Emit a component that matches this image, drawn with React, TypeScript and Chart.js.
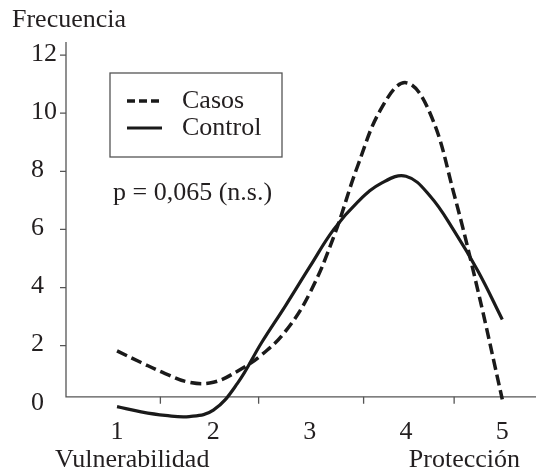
import React, { useEffect, useRef } from 'react';
import { Chart, registerables } from 'chart.js';

Chart.register(...registerables);

// ---- data ----
const xValues = [1, 1.25, 1.5, 1.75, 2, 2.25, 2.5, 2.75, 3, 3.25, 3.5, 3.75, 4, 4.25, 4.5, 4.75, 5];
const casos = [1.82, 1.42, 1.04, 0.74, 0.74, 1.12, 1.68, 2.5, 3.8, 5.75, 8.2, 10.2, 11.05, 10.0, 7.2, 3.85, 0.15];
const control = [-0.1, -0.28, -0.4, -0.44, -0.22, 0.7, 2.1, 3.38, 4.71, 6.0, 6.95, 7.6, 7.83, 7.15, 5.95, 4.55, 2.9];
const seriesLabels = ['Casos', 'Control'];
const yTicks = [0, 2, 4, 6, 8, 10, 12];
const xTickLabels = [1, 2, 3, 4, 5];
const xTickMarks = [1.45, 2.47, 3.56, 4.5];
const yAxisTitle = 'Frecuencia';
const xLeftTitle = 'Vulnerabilidad';
const xRightTitle = 'Protección';
const pText = 'p = 0,065 (n.s.)';

const X_MIN = 0.47;
const X_MAX = 5.35;
const Y_MIN = -0.8;
const Y_MAX = 12.45;
const X_AXIS_AT = 0.24;

const FONT = '26px "Liberation Serif", "Times New Roman", serif';
const TEXT = '#231f20';
const AXIS = '#555';

const decorPlugin = {
  id: 'decor',
  beforeDatasetsDraw(chart: any) {
    const { ctx, chartArea, scales } = chart;
    const xs = scales.x;
    const ys = scales.y;
    const axisY = ys.getPixelForValue(X_AXIS_AT);
    ctx.save();
    ctx.strokeStyle = AXIS;
    ctx.lineWidth = 1.3;
    ctx.beginPath();
    ctx.moveTo(chartArea.left, chartArea.top);
    ctx.lineTo(chartArea.left, axisY);
    ctx.lineTo(chartArea.right, axisY);
    ctx.stroke();
    // y tick marks
    ctx.beginPath();
    yTicks.forEach((v) => {
      if (v >= X_AXIS_AT) {
        const py = ys.getPixelForValue(v);
        ctx.moveTo(chartArea.left - 6, py);
        ctx.lineTo(chartArea.left, py);
      }
    });
    // x tick marks
    xTickMarks.forEach((v) => {
      const px = xs.getPixelForValue(v);
      ctx.moveTo(px, axisY);
      ctx.lineTo(px, axisY + 7);
    });
    ctx.stroke();

    ctx.fillStyle = TEXT;
    ctx.font = FONT;
    ctx.textBaseline = 'middle';
    ctx.textAlign = 'left';
    yTicks.forEach((v) => {
      ctx.fillText(String(v), 31, ys.getPixelForValue(v) - 1);
    });
    ctx.textAlign = 'center';
    xTickLabels.forEach((v) => {
      ctx.fillText(String(v), xs.getPixelForValue(v), axisY + 35);
    });
    ctx.textBaseline = 'alphabetic';
    ctx.textAlign = 'left';
    ctx.fillText(yAxisTitle, 12, 27);
    ctx.fillText(xLeftTitle, 55, 467);
    ctx.textAlign = 'right';
    ctx.fillText(xRightTitle, 520, 467);
    ctx.restore();
  },
  afterDraw(chart: any) {
    const { ctx } = chart;
    ctx.save();
    // legend box
    ctx.strokeStyle = AXIS;
    ctx.lineWidth = 1.3;
    ctx.strokeRect(110, 73, 172, 84);
    const rows = [101, 128];
    chart.data.datasets.forEach((ds: any, i: number) => {
      ctx.beginPath();
      ctx.strokeStyle = ds.borderColor;
      ctx.lineWidth = ds.borderWidth;
      ctx.setLineDash(i === 0 ? [8, 4] : []);
      ctx.moveTo(127, rows[i]);
      ctx.lineTo(162, rows[i]);
      ctx.stroke();
      ctx.setLineDash([]);
      ctx.fillStyle = TEXT;
      ctx.font = FONT;
      ctx.textBaseline = 'middle';
      ctx.textAlign = 'left';
      ctx.fillText(ds.label, 182, rows[i]);
    });
    ctx.textBaseline = 'alphabetic';
    ctx.fillText(pText, 113, 200);
    ctx.restore();
  },
};

export default function App() {
  const ref = useRef<HTMLCanvasElement>(null);
  useEffect(() => {
    if (!ref.current) return;
    const chart = new Chart(ref.current, {
      type: 'line',
      data: {
        datasets: [
          {
            label: seriesLabels[0],
            data: xValues.map((x, i) => ({ x, y: casos[i] })),
            borderColor: '#1a1a1a',
            borderWidth: 3.5,
            borderDash: [11, 5],
            pointRadius: 0,
            tension: 0.4,
            fill: false,
            clip: false,
          },
          {
            label: seriesLabels[1],
            data: xValues.map((x, i) => ({ x, y: control[i] })),
            borderColor: '#1a1a1a',
            borderWidth: 3.2,
            pointRadius: 0,
            tension: 0.4,
            fill: false,
            clip: false,
          },
        ],
      },
      options: {
        responsive: false,
        animation: false,
        devicePixelRatio: 1,
        layout: { padding: { left: 66, right: 0, top: 42, bottom: 43 } },
        plugins: { legend: { display: false }, tooltip: { enabled: false } },
        scales: {
          x: { type: 'linear', min: X_MIN, max: X_MAX, display: false },
          y: { type: 'linear', min: Y_MIN, max: Y_MAX, display: false },
        },
      },
      plugins: [decorPlugin],
    } as any);
    return () => chart.destroy();
  }, []);
  return (
    <div style={{ position: 'absolute', left: 0, top: 0, width: 536, height: 470, background: '#fff' }}>
      <canvas ref={ref} width={536} height={470} />
    </div>
  );
}
